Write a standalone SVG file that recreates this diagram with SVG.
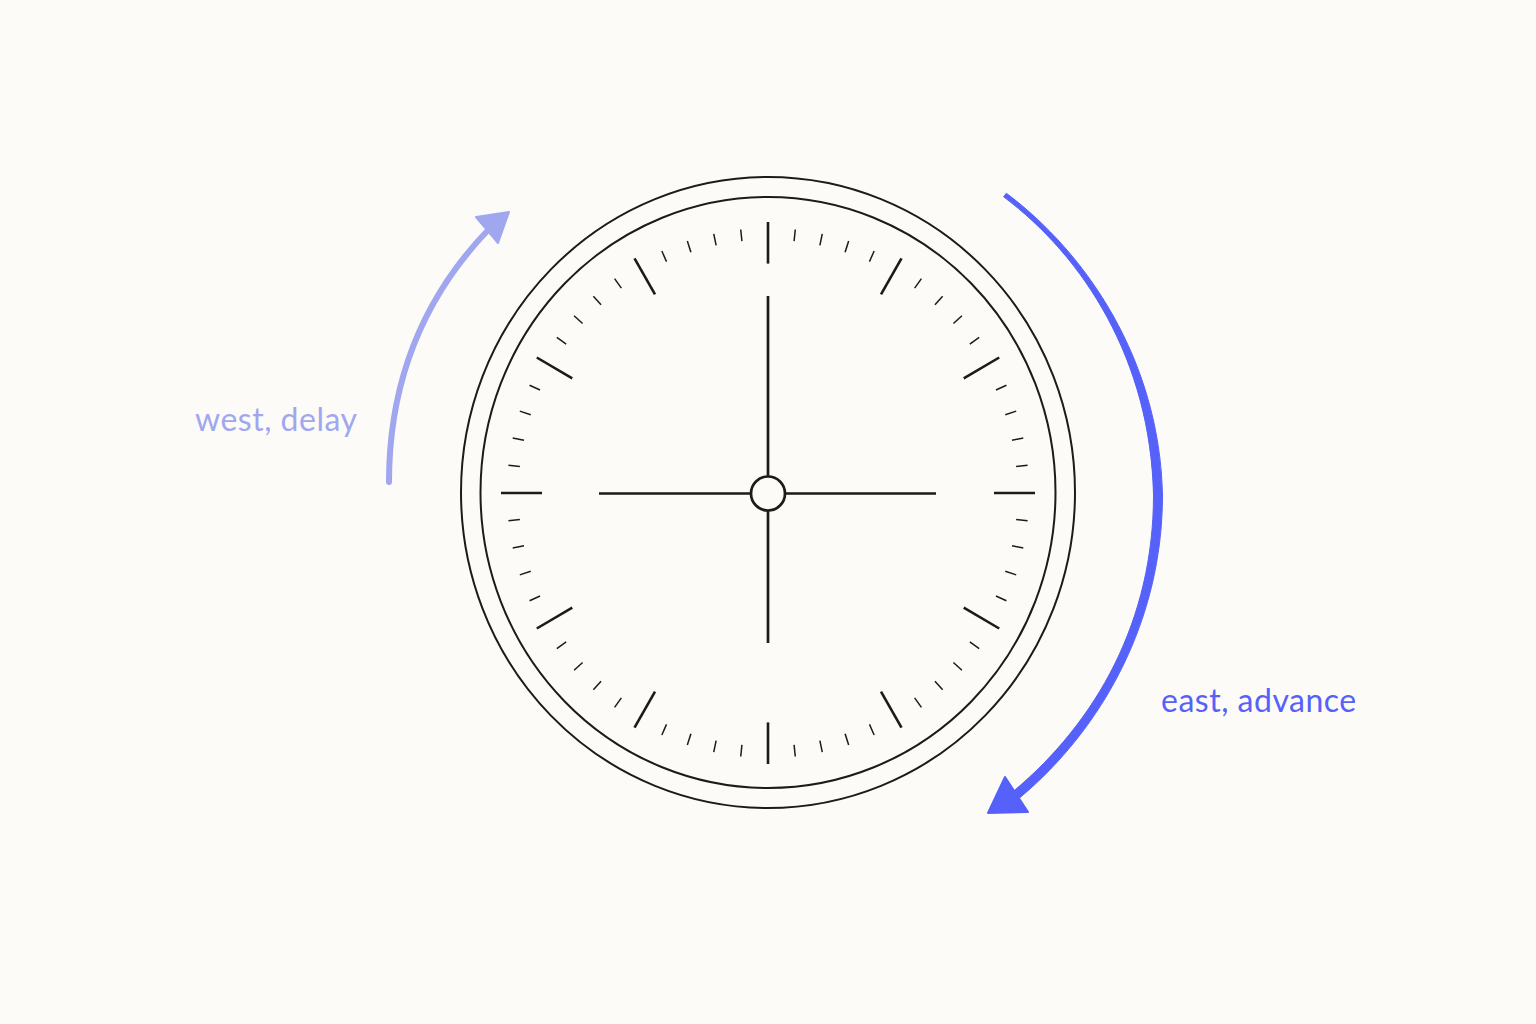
<svg xmlns="http://www.w3.org/2000/svg" xmlns:xlink="http://www.w3.org/1999/xlink" width="1536" height="1024" viewBox="0 0 1536 1024">
<style>
.ink{stroke:#1b1b1b;fill:none;stroke-linecap:butt}
.rim{stroke-width:2}
.maj{stroke-width:2.6}
.mn{stroke-width:1.5}
.hand{stroke-width:2.7}
.lbl{font-family:Lato,"Noto Sans","Liberation Sans",sans-serif;font-size:32px;letter-spacing:0.5px}
</style>
<defs>
<line id="mn" x1="0" y1="-261" x2="0" y2="-249.5" class="ink mn" vector-effect="non-scaling-stroke"/>
<line id="mj" x1="0" y1="-267" x2="0" y2="-226" class="ink maj" vector-effect="non-scaling-stroke"/>
</defs>
<rect width="1536" height="1024" fill="#fcfbf8"/>
<g id="clock">
<ellipse class="ink rim" cx="768" cy="492.5" rx="307" ry="315.5"/>
<ellipse class="ink rim" cx="768" cy="492.5" rx="287.5" ry="295.5"/>
<g id="ticks" transform="translate(768,493) scale(1,1.015)">
<use xlink:href="#mj" transform="rotate(0)"/><use xlink:href="#mj" transform="rotate(30)"/><use xlink:href="#mj" transform="rotate(60)"/><use xlink:href="#mj" transform="rotate(90)"/><use xlink:href="#mj" transform="rotate(120)"/><use xlink:href="#mj" transform="rotate(150)"/><use xlink:href="#mj" transform="rotate(180)"/><use xlink:href="#mj" transform="rotate(210)"/><use xlink:href="#mj" transform="rotate(240)"/><use xlink:href="#mj" transform="rotate(270)"/><use xlink:href="#mj" transform="rotate(300)"/><use xlink:href="#mj" transform="rotate(330)"/>
<use xlink:href="#mn" transform="rotate(6)"/><use xlink:href="#mn" transform="rotate(12)"/><use xlink:href="#mn" transform="rotate(18)"/><use xlink:href="#mn" transform="rotate(24)"/>
<use xlink:href="#mn" transform="rotate(36)"/><use xlink:href="#mn" transform="rotate(42)"/><use xlink:href="#mn" transform="rotate(48)"/><use xlink:href="#mn" transform="rotate(54)"/>
<use xlink:href="#mn" transform="rotate(66)"/><use xlink:href="#mn" transform="rotate(72)"/><use xlink:href="#mn" transform="rotate(78)"/><use xlink:href="#mn" transform="rotate(84)"/>
<use xlink:href="#mn" transform="rotate(96)"/><use xlink:href="#mn" transform="rotate(102)"/><use xlink:href="#mn" transform="rotate(108)"/><use xlink:href="#mn" transform="rotate(114)"/>
<use xlink:href="#mn" transform="rotate(126)"/><use xlink:href="#mn" transform="rotate(132)"/><use xlink:href="#mn" transform="rotate(138)"/><use xlink:href="#mn" transform="rotate(144)"/>
<use xlink:href="#mn" transform="rotate(156)"/><use xlink:href="#mn" transform="rotate(162)"/><use xlink:href="#mn" transform="rotate(168)"/><use xlink:href="#mn" transform="rotate(174)"/>
<use xlink:href="#mn" transform="rotate(186)"/><use xlink:href="#mn" transform="rotate(192)"/><use xlink:href="#mn" transform="rotate(198)"/><use xlink:href="#mn" transform="rotate(204)"/>
<use xlink:href="#mn" transform="rotate(216)"/><use xlink:href="#mn" transform="rotate(222)"/><use xlink:href="#mn" transform="rotate(228)"/><use xlink:href="#mn" transform="rotate(234)"/>
<use xlink:href="#mn" transform="rotate(246)"/><use xlink:href="#mn" transform="rotate(252)"/><use xlink:href="#mn" transform="rotate(258)"/><use xlink:href="#mn" transform="rotate(264)"/>
<use xlink:href="#mn" transform="rotate(276)"/><use xlink:href="#mn" transform="rotate(282)"/><use xlink:href="#mn" transform="rotate(288)"/><use xlink:href="#mn" transform="rotate(294)"/>
<use xlink:href="#mn" transform="rotate(306)"/><use xlink:href="#mn" transform="rotate(312)"/><use xlink:href="#mn" transform="rotate(318)"/><use xlink:href="#mn" transform="rotate(324)"/>
<use xlink:href="#mn" transform="rotate(336)"/><use xlink:href="#mn" transform="rotate(342)"/><use xlink:href="#mn" transform="rotate(348)"/><use xlink:href="#mn" transform="rotate(354)"/>
</g>
<g id="hands">
<line class="ink hand" x1="768" y1="296" x2="768" y2="476"/>
<line class="ink hand" x1="768" y1="511" x2="768" y2="643"/>
<line class="ink hand" x1="599" y1="493.5" x2="751" y2="493.5"/>
<line class="ink hand" x1="785" y1="493.5" x2="936" y2="493.5"/>
<circle cx="768" cy="493.5" r="17" fill="#fcfbf8" stroke="#1b1b1b" stroke-width="2.7"/>
</g>
</g>
<g id="connectors">
<g id="west-arrow">
<path d="M389,482 C389,380 425,295 490,228" fill="none" stroke="#a0a7ef" stroke-width="6" stroke-linecap="round"/>
<polygon points="509,212 476,217 498,243" fill="#a0a7ef" stroke="#a0a7ef" stroke-width="2" stroke-linejoin="round"/>
</g>
<g id="east-arrow">
<path d="M1006.35,193.2 C1086.35,253.2 1159.5,360 1162.5,495 C1162.5,620 1102.9,728.5 1018.9,798.5 L1013.1,791.5 C1097.1,721.5 1153.5,620 1153.5,495 C1150.5,360 1083.65,256.8 1003.65,196.8 Z" fill="#5661fa" stroke="#5661fa" stroke-width="1" stroke-linejoin="round"/>
<polygon points="988,813 1005,777 1028,812" fill="#5661fa" stroke="#5661fa" stroke-width="2" stroke-linejoin="round"/>
</g>
</g>
<g id="labels">
<text class="lbl" x="195" y="431" fill="#a0a7ef">west, delay</text>
<text class="lbl" x="1161" y="712" fill="#5661fa">east, advance</text>
</g>
</svg>
